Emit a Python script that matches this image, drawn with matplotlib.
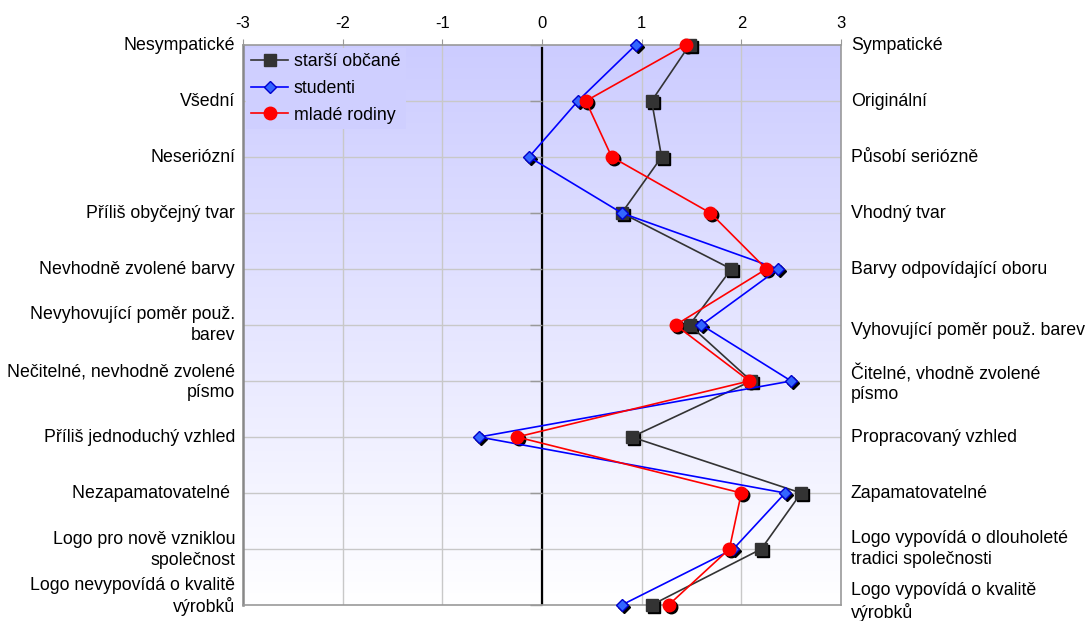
#!/usr/bin/env python3

import numpy as np
import matplotlib
matplotlib.use("Agg")
from matplotlib import pyplot as plt
from matplotlib import transforms

plt.rcParams["font.family"] = ["Liberation Sans", "DejaVu Sans"]
plt.rcParams["axes.unicode_minus"] = False

# popisky vlevo (negativní pól) a vpravo (pozitivní pól)
left_labels = [
    "Nesympatické", "Všední", "Neseriózní", "Příliš obyčejný tvar",
    "Nevhodně zvolené barvy", "Nevyhovující poměr použ.\nbarev",
    "Nečitelné, nevhodně zvolené\npísmo", "Příliš jednoduchý vzhled",
    "Nezapamatovatelné ", "Logo pro nově vzniklou\nspolečnost",
    "Logo nevypovídá o kvalitě\nvýrobků",
]
right_labels = [
    "Sympatické", "Originální", "Působí seriózně", "Vhodný tvar",
    "Barvy odpovídající oboru", "Vyhovující poměr použ. barev",
    "Čitelné, vhodně zvolené\npísmo", "Propracovaný vzhled",
    "Zapamatovatelné", "Logo vypovídá o dlouholeté\ntradici společnosti",
    "Logo vypovídá o kvalitě\nvýrobků",
]

# hodnoty skupin respondentů
starsi = [1.48, 1.10, 1.20, 0.80, 1.90, 1.48, 2.10, 0.90, 2.60, 2.20, 1.10]
studenti = [0.94, 0.36, -0.13, 0.80, 2.37, 1.60, 2.50, -0.63, 2.44, 1.92, 0.80]
rodiny = [1.44, 0.44, 0.70, 1.69, 2.25, 1.34, 2.08, -0.25, 2.00, 1.88, 1.27]

rows = np.arange(len(left_labels))

fig = plt.figure(figsize=(10.86, 6.21), dpi=100)
ax = fig.add_axes([243 / 1086, 1 - 605 / 621, 598 / 1086, 560 / 621])

# gradientové pozadí
grad = np.linspace(0, 1, 256).reshape(-1, 1)
top = np.array([204, 204, 255]) / 255
bottom = np.array([255, 255, 255]) / 255
img = top + grad[..., None] * (bottom - top)
ax.imshow(img, extent=[-3, 3, 10, 0], aspect="auto", zorder=0)

ax.set_xlim(-3, 3)
ax.set_ylim(10, 0)

# mřížka
for x in range(-2, 3):
    ax.axvline(x, color="#c8c8c8", lw=1, zorder=1)
for r in rows[1:-1]:
    ax.axhline(r, color="#c8c8c8", lw=1, zorder=1)

# svislá osa v nule s dílky
ax.plot([0, 0], [0.05, 10], color="black", lw=1.6, zorder=2)
ax.plot(np.zeros(len(rows)), rows, ls="none", marker=0, ms=8.5,
        color="#999999", mew=1, zorder=2, clip_on=False)

shadow = transforms.offset_copy(ax.transData, fig=fig, x=2, y=-2, units="dots")

series = [
    ("starší občané", starsi, "#333333", "s", "#333333", "#333333", 8),
    ("studenti", studenti, "#0000ff", "D", "#3366ff", "#0000cc", 6.5),
    ("mladé rodiny", rodiny, "#ff0000", "o", "#ff0000", "#ff0000", 9),
]
for name, vals, lc, mk, fc, ec, ms in series:
    ax.plot(vals, rows, ls="none", marker=mk, ms=ms, color="black",
            transform=shadow, zorder=3, clip_on=False)
    ax.plot(vals, rows, color=lc, lw=1.2, marker=mk, ms=ms, mfc=fc,
            mec=ec, mew=1, label=name, zorder=4, clip_on=False)

# osy
ax.xaxis.tick_top()
ax.set_xticks(range(-3, 4))
ax.tick_params(axis="x", direction="out", length=4, color="#999999",
               labelsize=12, pad=6)
ax.set_yticks([])
for s in ax.spines.values():
    s.set_color("#999999")
    s.set_linewidth(1.2)
ax.spines["left"].set_color("#888888")
ax.spines["left"].set_linewidth(1.8)

# popisky pólů
left_y = [0, 1, 2, 3, 4, 5, 6.02, 7, 8, 9.02, 9.85]
right_y = [0, 1, 2, 3, 4, 5.1, 6.05, 7, 8, 9, 9.95]
for lab, y in zip(left_labels, left_y):
    ax.text(-3.08, y, lab, ha="right", va="center", fontsize=12.8,
            linespacing=1.25)
for lab, y in zip(right_labels, right_y):
    ax.text(3.1, y, lab, ha="left", va="center", fontsize=12.8,
            linespacing=1.25, clip_on=False)

leg = ax.legend(loc="upper left", fontsize=12.8, frameon=True,
                facecolor="#cfcfff", edgecolor="none", framealpha=1,
                borderpad=0.3, handlelength=2.1, handletextpad=0.3,
                labelspacing=0.55, borderaxespad=0.15, fancybox=False)
leg.set_zorder(5)

fig.savefig("out.png", dpi=100)
